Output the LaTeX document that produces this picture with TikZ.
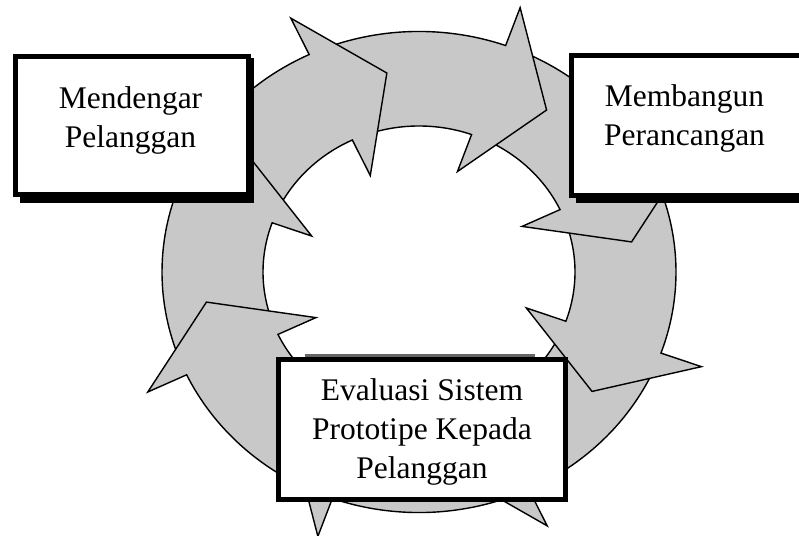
\documentclass[tikz,border=0pt]{standalone}
\usepackage{fontspec}
\setmainfont{Liberation Serif}
\definecolor{ringgray}{RGB}{200,200,200}
\newcommand{\ringarrow}[1]{%
  \draw[arrowpiece] plot[domain={#1+42}:{#1}, samples=40] (\x:257)
    -- (#1:300) -- ({#1-16.7}:215) -- (#1:114)
    -- plot[domain={#1}:{#1+42}, samples=40] (\x:156) -- cycle;}
\begin{document}
\begin{tikzpicture}[x=1pt,y=1pt,
  arrowpiece/.style={fill=ringgray, draw=black, line width=1.4pt, line join=miter},
  boxframe/.style={draw=black, fill=white, line width=5pt, inner sep=0pt},
  boxshadow/.style={fill=black, inner sep=0pt},
  boxtext/.style={align=center, inner sep=0pt, anchor=north, font=\fontsize{31.5}{39}\selectfont}]
\useasboundingbox (0,0) rectangle (799,-535);
\clip (0,0) rectangle (799,-535);
\fill[white] (0,0) rectangle (799,-535);
% ring of eight arrows (drawn so that each arrowhead lies over the next shaft)
\begin{scope}[shift={(419,-272)}, yscale=0.936]
  \ringarrow{-64.7}
  \ringarrow{-19.7}
  \ringarrow{25.3}
  \ringarrow{70.3}
  \ringarrow{115.3}
  \ringarrow{160.3}
  \ringarrow{205.3}
  \ringarrow{250.3}
\end{scope}
% left box
\node[boxshadow, minimum width=234pt, minimum height=145pt] (leftshadow) at (137,-130.5) {};
\node[boxframe, minimum width=233pt, minimum height=138pt] (leftbox) at (132,-125.5) {};
\node[boxtext] (lefttext) at (130.5,-86.5) {Mendengar\\Pelanggan};
% right box (runs past the right edge of the picture)
\node[boxshadow, minimum width=245pt, minimum height=146pt] (rightshadow) at (698.5,-130) {};
\node[boxframe, minimum width=240pt, minimum height=140pt] (rightbox) at (691.5,-125.5) {};
\node[boxtext] (righttext) at (684.5,-84.5) {Membangun\\Perancangan};
% bottom box
\fill[black!60] (305,-353.5) rectangle (535,-356.5);
\node[boxframe, minimum width=287.3pt, minimum height=140pt] (bottombox) at (422.2,-429.2) {};
\node[boxtext] (bottomtext) at (422,-378.5) {Evaluasi Sistem\\Prototipe Kepada\\Pelanggan};
\end{tikzpicture}
\end{document}
